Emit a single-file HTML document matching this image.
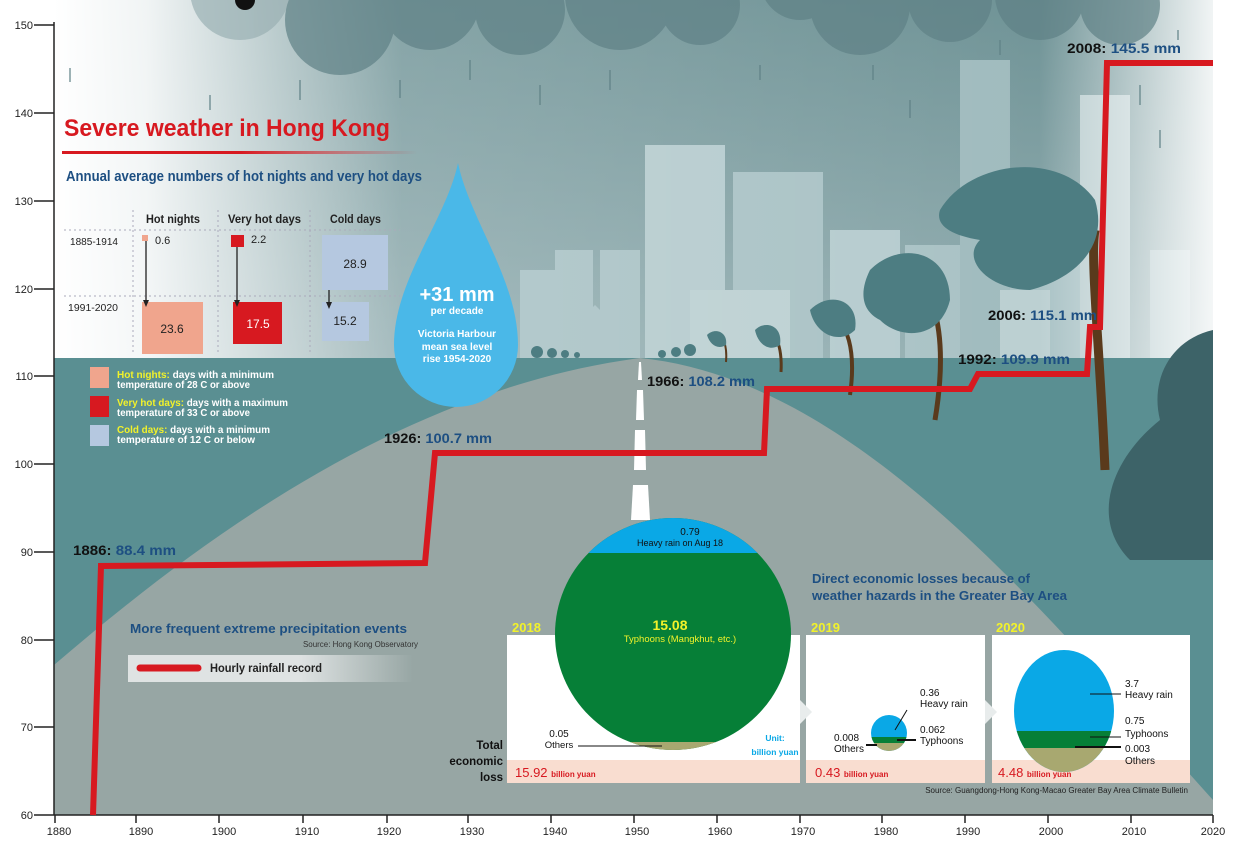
<!DOCTYPE html>
<html><head><meta charset="utf-8"><style>
html,body{margin:0;padding:0;background:#fff}
svg{display:block}
text{font-family:"Liberation Sans Narrow","Liberation Sans",sans-serif}
.b{font-weight:bold}
</style></head><body>
<svg width="1245" height="851" viewBox="0 0 1245 851" xmlns="http://www.w3.org/2000/svg">
<defs>
<linearGradient id="skyv" x1="0" y1="0" x2="0" y2="1">
<stop offset="0" stop-color="#6f9396"/><stop offset="0.55" stop-color="#9fb7ba"/><stop offset="1" stop-color="#d5e0e1"/>
</linearGradient>
<linearGradient id="skyh" x1="0" y1="0" x2="1" y2="0">
<stop offset="0" stop-color="#fff" stop-opacity="1"/><stop offset="0.08" stop-color="#fff" stop-opacity="0.9"/><stop offset="0.3" stop-color="#fff" stop-opacity="0.15"/><stop offset="0.85" stop-color="#fff" stop-opacity="0"/><stop offset="1" stop-color="#fff" stop-opacity="0.9"/>
</linearGradient>
<linearGradient id="uline" x1="0" y1="0" x2="1" y2="0"><stop offset="0" stop-color="#d71920"/><stop offset="0.5" stop-color="#d71920"/><stop offset="1" stop-color="#d71920" stop-opacity="0"/></linearGradient>
<linearGradient id="leg" x1="0" y1="0" x2="1" y2="0"><stop offset="0" stop-color="#dfe3e3"/><stop offset="0.6" stop-color="#dfe3e3"/><stop offset="1" stop-color="#dfe3e3" stop-opacity="0"/></linearGradient>
</defs>
<rect x="54" y="0" width="1159" height="815" fill="url(#skyv)"/>
<g fill="#a9c2c5">
<rect x="520" y="270" width="40" height="90"/><rect x="555" y="250" width="38" height="110"/><rect x="600" y="250" width="40" height="110"/>
<rect x="645" y="145" width="80" height="215" fill="#b5cbce"/><rect x="733" y="172" width="90" height="188"/>
<rect x="830" y="230" width="70" height="130" fill="#b5cbce"/><rect x="905" y="245" width="60" height="115"/>
<rect x="960" y="60" width="50" height="300" fill="#a0bbbe"/><rect x="1010" y="250" width="80" height="110"/>
<rect x="1080" y="95" width="50" height="265" fill="#b8ccce"/><rect x="1150" y="250" width="40" height="110"/>
<polygon points="520,290 540,270 560,290 560,360 520,360"/><polygon points="580,320 595,305 610,320 610,360 580,360"/>
<rect x="690" y="290" width="100" height="70" fill="#bcd0d2"/><rect x="1000" y="290" width="50" height="70" fill="#bcd0d2"/>
</g>
<rect x="54" y="0" width="1159" height="360" fill="url(#skyh)"/>
<g fill="#5f8186" opacity="0.7">
<circle cx="240" cy="-10" r="50" fill="#9ab0b3"/><circle cx="340" cy="20" r="55"/><circle cx="430" cy="0" r="50"/><circle cx="520" cy="10" r="45"/>
<circle cx="620" cy="-5" r="55"/><circle cx="700" cy="5" r="40"/><circle cx="860" cy="5" r="50"/><circle cx="950" cy="0" r="42"/>
<circle cx="1040" cy="-5" r="45"/><circle cx="1120" cy="5" r="40"/><circle cx="800" cy="-20" r="40"/>
</g>
<circle cx="245" cy="0" r="10" fill="#111"/>
<g stroke="#5f8186" stroke-width="2" opacity="0.6">
<line x1="70" y1="68" x2="70" y2="82"/><line x1="210" y1="95" x2="210" y2="110"/><line x1="300" y1="80" x2="300" y2="100"/><line x1="400" y1="80" x2="400" y2="98"/><line x1="470" y1="60" x2="470" y2="80"/><line x1="540" y1="85" x2="540" y2="105"/><line x1="610" y1="70" x2="610" y2="90"/><line x1="760" y1="65" x2="760" y2="80"/><line x1="873" y1="65" x2="873" y2="80"/><line x1="910" y1="100" x2="910" y2="118"/><line x1="1000" y1="40" x2="1000" y2="55"/><line x1="1140" y1="85" x2="1140" y2="105"/><line x1="1178" y1="30" x2="1178" y2="40"/><line x1="1160" y1="130" x2="1160" y2="148"/>
</g>
<rect x="54" y="358" width="1159" height="457" fill="#5a8f92"/>
<path d="M54,665 C200,540 400,390 640,358 C860,380 1050,620 1213,800 L1213,815 L54,815 Z" fill="#97a6a4"/>
<path d="M1213,330 C1170,340 1150,380 1160,420 C1110,460 1090,520 1130,560 L1213,560 Z" fill="#3d6368"/>
<g fill="#4d7d82">
<path d="M1105,470 C1100,350 1090,260 1095,230" stroke="#5a3a1c" stroke-width="9" fill="none"/>
<path d="M940,210 C970,160 1060,150 1095,200 C1110,250 1070,280 1030,290 C990,290 960,260 980,240 C950,235 935,225 940,210 Z"/>
<path d="M935,420 C945,360 940,320 930,300" stroke="#5a3a1c" stroke-width="5" fill="none"/>
<path d="M870,270 C900,240 950,250 950,300 C940,340 900,340 880,320 C860,310 860,290 870,270 Z"/>
<path d="M850,395 C855,360 850,340 845,330" stroke="#5a3a1c" stroke-width="4" fill="none"/>
<path d="M810,310 C830,290 860,300 855,330 C840,345 815,335 810,310 Z"/>
<path d="M781,372 C782,355 779,345 777,340" stroke="#5a3a1c" stroke-width="3" fill="none"/>
<path d="M755,330 C765,320 783,325 780,345 C770,352 758,345 755,330 Z"/>
<path d="M726,362 C727,350 725,345 724,340" stroke="#5a3a1c" stroke-width="2" fill="none"/>
<path d="M707,335 C715,327 728,332 726,345 C718,350 710,345 707,335 Z"/>
<circle cx="690" cy="350" r="6"/><circle cx="676" cy="352" r="5"/><circle cx="662" cy="354" r="4"/>
<circle cx="537" cy="352" r="6"/><circle cx="552" cy="353" r="5"/><circle cx="565" cy="354" r="4"/><circle cx="577" cy="355" r="3"/>
</g>
<g fill="#fff"><polygon points="639,362 641,362 642,380 638,380"/><polygon points="637,390 643,390 644,420 636,420"/><polygon points="635,430 645,430 646,470 634,470"/><polygon points="633,485 648,485 650,520 631,520"/></g>
<rect x="0" y="0" width="54" height="851" fill="#fff"/>
<rect x="1213" y="0" width="32" height="851" fill="#fff"/>
<text x="64" y="136" font-size="24" fill="#d71920" class="b" textLength="326" lengthAdjust="spacingAndGlyphs">Severe weather in Hong Kong</text>
<rect x="62" y="151" width="355" height="3" fill="url(#uline)"/>
<text x="66" y="181" font-size="14.5" fill="#1d4f82" class="b" textLength="356" lengthAdjust="spacingAndGlyphs">Annual average numbers of hot nights and very hot days</text>
<g stroke="#aab" stroke-dasharray="2,3" stroke-width="1">
<line x1="133" y1="210" x2="133" y2="355"/><line x1="218" y1="210" x2="218" y2="355"/><line x1="310" y1="210" x2="310" y2="355"/>
<line x1="64" y1="230" x2="400" y2="230"/><line x1="64" y1="296" x2="400" y2="296"/>
</g>
<g font-size="11.5" fill="#222" class="b">
<text x="146" y="223" textLength="54" lengthAdjust="spacingAndGlyphs">Hot nights</text><text x="228" y="223" textLength="73" lengthAdjust="spacingAndGlyphs">Very hot days</text><text x="330" y="223" textLength="51" lengthAdjust="spacingAndGlyphs">Cold days</text>
</g>
<g font-size="10" fill="#222"><text x="70" y="245" textLength="48" lengthAdjust="spacingAndGlyphs">1885-1914</text><text x="68" y="311" textLength="50" lengthAdjust="spacingAndGlyphs">1991-2020</text></g>
<rect x="142" y="235" width="6" height="6" fill="#f0a58d"/><text x="155" y="244" font-size="11" fill="#222">0.6</text>
<rect x="231" y="235" width="13" height="12" fill="#d71920"/><text x="251" y="243" font-size="11" fill="#222">2.2</text>
<rect x="322" y="235" width="66" height="55" fill="#b5c8e0"/><text x="355" y="268" font-size="12" fill="#222" text-anchor="middle">28.9</text>
<rect x="142" y="302" width="61" height="52" fill="#f0a58d"/><text x="172" y="333" font-size="12" fill="#222" text-anchor="middle">23.6</text>
<rect x="233" y="302" width="49" height="42" fill="#d71920"/><text x="258" y="328" font-size="12" fill="#fff" text-anchor="middle">17.5</text>
<rect x="322" y="302" width="47" height="39" fill="#b5c8e0"/><text x="345" y="325" font-size="12" fill="#222" text-anchor="middle">15.2</text>
<g stroke="#222" stroke-width="1.3"><line x1="146" y1="241" x2="146" y2="302"/><line x1="237" y1="247" x2="237" y2="302"/><line x1="329" y1="290" x2="329" y2="304"/></g>
<g fill="#222"><polygon points="143,300 149,300 146,307"/><polygon points="234,300 240,300 237,307"/><polygon points="326,302 332,302 329,309"/></g>
<rect x="90" y="367" width="19" height="21" fill="#f0a58d"/><rect x="90" y="396" width="19" height="21" fill="#d71920"/><rect x="90" y="425" width="19" height="21" fill="#b5c8e0"/>
<g font-size="10" fill="#fff" class="b">
<text x="117" y="378" textLength="157" lengthAdjust="spacingAndGlyphs"><tspan fill="#f2f22a">Hot nights:</tspan> days with a minimum</text><text x="117" y="388" textLength="133" lengthAdjust="spacingAndGlyphs">temperature of 28 C or above</text>
<text x="117" y="406" textLength="171" lengthAdjust="spacingAndGlyphs"><tspan fill="#f2f22a">Very hot days:</tspan> days with a maximum</text><text x="117" y="416" textLength="133" lengthAdjust="spacingAndGlyphs">temperature of 33 C or above</text>
<text x="117" y="433" textLength="153" lengthAdjust="spacingAndGlyphs"><tspan fill="#f2f22a">Cold days:</tspan> days with a minimum</text><text x="117" y="443" textLength="138" lengthAdjust="spacingAndGlyphs">temperature of 12 C or below</text>
</g>
<path d="M458,163 C470,220 518,280 518,345 A62,62 0 0 1 394,345 C394,280 446,220 458,163 Z" fill="#4ab8e8"/>
<g fill="#fff" class="b" text-anchor="middle">
<text x="457" y="301" font-size="20">+31 mm</text><text x="457" y="314" font-size="10">per decade</text>
<text x="457" y="337" font-size="10">Victoria Harbour</text><text x="457" y="350" font-size="10">mean sea level</text><text x="457" y="362" font-size="10">rise 1954-2020</text>
</g>
<g stroke="#222" stroke-width="1.5">
<line x1="54" y1="22" x2="54" y2="815"/><line x1="54" y1="815" x2="1213" y2="815"/>
<line x1="34" y1="25" x2="54" y2="25"/><line x1="34" y1="113" x2="54" y2="113"/><line x1="34" y1="201" x2="54" y2="201"/><line x1="34" y1="289" x2="54" y2="289"/><line x1="34" y1="376" x2="54" y2="376"/><line x1="34" y1="464" x2="54" y2="464"/><line x1="34" y1="552" x2="54" y2="552"/><line x1="34" y1="640" x2="54" y2="640"/><line x1="34" y1="727" x2="54" y2="727"/><line x1="34" y1="815" x2="54" y2="815"/>
<line x1="55" y1="815" x2="55" y2="823"/><line x1="136" y1="815" x2="136" y2="823"/><line x1="219" y1="815" x2="219" y2="823"/><line x1="303" y1="815" x2="303" y2="823"/><line x1="387" y1="815" x2="387" y2="823"/><line x1="468" y1="815" x2="468" y2="823"/><line x1="551" y1="815" x2="551" y2="823"/><line x1="634" y1="815" x2="634" y2="823"/><line x1="717" y1="815" x2="717" y2="823"/><line x1="800" y1="815" x2="800" y2="823"/><line x1="882" y1="815" x2="882" y2="823"/><line x1="965" y1="815" x2="965" y2="823"/><line x1="1048" y1="815" x2="1048" y2="823"/><line x1="1131" y1="815" x2="1131" y2="823"/><line x1="1213" y1="815" x2="1213" y2="823"/>
</g>
<g font-size="11" fill="#222" text-anchor="end">
<text x="33" y="29">150</text><text x="33" y="117">140</text><text x="33" y="205">130</text><text x="33" y="293">120</text><text x="33" y="380">110</text><text x="33" y="468">100</text><text x="33" y="556">90</text><text x="33" y="644">80</text><text x="33" y="731">70</text><text x="33" y="819">60</text>
</g>
<g font-size="11" fill="#222" text-anchor="middle">
<text x="59" y="835">1880</text><text x="141" y="835">1890</text><text x="224" y="835">1900</text><text x="307" y="835">1910</text><text x="389" y="835">1920</text><text x="472" y="835">1930</text><text x="555" y="835">1940</text><text x="637" y="835">1950</text><text x="720" y="835">1960</text><text x="803" y="835">1970</text><text x="886" y="835">1980</text><text x="968" y="835">1990</text><text x="1051" y="835">2000</text><text x="1134" y="835">2010</text><text x="1213" y="835">2020</text>
</g>
<polyline points="93,815 101,566 425,563 435,453 764,453 767,389 970,389 978,374 1087,374 1090,327 1100,327 1107,63 1213,63" fill="none" stroke="#d71920" stroke-width="6" stroke-linejoin="miter"/>
<g font-size="13.5" class="b" fill="#1d4f82">
<text x="73" y="555" textLength="103" lengthAdjust="spacingAndGlyphs"><tspan fill="#111">1886: </tspan>88.4 mm</text>
<text x="384" y="443" textLength="108" lengthAdjust="spacingAndGlyphs"><tspan fill="#111">1926: </tspan>100.7 mm</text>
<text x="647" y="386" textLength="108" lengthAdjust="spacingAndGlyphs"><tspan fill="#111">1966: </tspan>108.2 mm</text>
<text x="958" y="364" textLength="112" lengthAdjust="spacingAndGlyphs"><tspan fill="#111">1992: </tspan>109.9 mm</text>
<text x="988" y="320" textLength="109" lengthAdjust="spacingAndGlyphs"><tspan fill="#111">2006: </tspan>115.1 mm</text>
<text x="1067" y="53" textLength="114" lengthAdjust="spacingAndGlyphs"><tspan fill="#111">2008: </tspan>145.5 mm</text>
</g>
<text x="130" y="633" font-size="13" class="b" fill="#1d4f82" textLength="277" lengthAdjust="spacingAndGlyphs">More frequent extreme precipitation events</text>
<text x="418" y="647" font-size="8" fill="#333" text-anchor="end" textLength="115" lengthAdjust="spacingAndGlyphs">Source: Hong Kong Observatory</text>
<rect x="128" y="655" width="285" height="27" fill="url(#leg)"/>
<line x1="140" y1="668" x2="198" y2="668" stroke="#d71920" stroke-width="7" stroke-linecap="round"/>
<text x="210" y="672" font-size="11.5" class="b" fill="#222" textLength="112" lengthAdjust="spacingAndGlyphs">Hourly rainfall record</text>
<text x="812" y="583" font-size="13" class="b" fill="#1d4f82" textLength="218" lengthAdjust="spacingAndGlyphs">Direct economic losses because of</text>
<text x="812" y="600" font-size="13" class="b" fill="#1d4f82" textLength="255" lengthAdjust="spacingAndGlyphs">weather hazards in the Greater Bay Area</text>
<rect x="507" y="635" width="293" height="125" fill="#fff"/><rect x="507" y="760" width="293" height="23" fill="#f9ddd0"/>
<rect x="806" y="635" width="179" height="125" fill="#fff"/><rect x="806" y="760" width="179" height="23" fill="#f9ddd0"/>
<rect x="992" y="635" width="198" height="125" fill="#fff"/><rect x="992" y="760" width="198" height="23" fill="#f9ddd0"/>
<g font-size="13" class="b" fill="#f2f22a"><text x="512" y="632">2018</text><text x="811" y="632">2019</text><text x="996" y="632">2020</text></g>
<clipPath id="c1"><ellipse cx="673" cy="634" rx="118" ry="116"/></clipPath>
<g clip-path="url(#c1)"><rect x="550" y="515" width="250" height="240" fill="#067f37"/><rect x="550" y="515" width="250" height="38" fill="#0aa8e6"/><rect x="550" y="742" width="250" height="20" fill="#a8a870"/></g>
<text x="690" y="535" font-size="10" fill="#111" text-anchor="middle">0.79</text><text x="680" y="546" font-size="9" fill="#111" text-anchor="middle">Heavy rain on Aug 18</text>
<text x="670" y="630" font-size="14" class="b" fill="#f2f22a" text-anchor="middle">15.08</text><text x="680" y="642" font-size="9.5" fill="#f2f22a" text-anchor="middle">Typhoons (Mangkhut, etc.)</text>
<text x="559" y="737" font-size="10" fill="#111" text-anchor="middle">0.05</text><text x="559" y="748" font-size="9.5" fill="#111" text-anchor="middle">Others</text>
<line x1="578" y1="746" x2="662" y2="746" stroke="#111"/>
<text x="775" y="741" font-size="8.5" class="b" fill="#0aa8e6" text-anchor="middle">Unit:</text><text x="775" y="755" font-size="8.5" class="b" fill="#0aa8e6" text-anchor="middle">billion yuan</text>
<g font-size="11.5" class="b" fill="#111" text-anchor="end"><text x="503" y="749">Total</text><text x="503" y="765">economic</text><text x="503" y="781">loss</text></g>
<text x="515" y="777" font-size="13" fill="#d71920">15.92 <tspan font-size="8" class="b">billion yuan</tspan></text>
<text x="815" y="777" font-size="13" fill="#d71920">0.43 <tspan font-size="8" class="b">billion yuan</tspan></text>
<text x="998" y="777" font-size="13" fill="#d71920">4.48 <tspan font-size="8" class="b">billion yuan</tspan></text>
<polygon points="800,700 812,712 800,724" fill="#e8ecec"/><polygon points="985,700 997,712 985,724" fill="#e8ecec"/>
<clipPath id="c2"><circle cx="889" cy="733" r="18"/></clipPath>
<g clip-path="url(#c2)"><rect x="870" y="714" width="40" height="40" fill="#0aa8e6"/><rect x="870" y="737" width="40" height="6" fill="#067f37"/><rect x="870" y="743" width="40" height="10" fill="#a8a870"/></g>
<g stroke="#111"><line x1="907" y1="710" x2="895" y2="730"/><line x1="897" y1="740" x2="916" y2="740" stroke-width="2"/><line x1="866" y1="745" x2="877" y2="745" stroke-width="2"/></g>
<g font-size="10" fill="#111"><text x="920" y="696">0.36</text><text x="920" y="707">Heavy rain</text><text x="920" y="733">0.062</text><text x="920" y="744">Typhoons</text>
<text x="834" y="741">0.008</text><text x="834" y="752">Others</text></g>
<clipPath id="c3"><ellipse cx="1064" cy="711" rx="50" ry="61"/></clipPath>
<g clip-path="url(#c3)"><rect x="1010" y="648" width="110" height="130" fill="#0aa8e6"/><rect x="1010" y="731" width="110" height="17" fill="#067f37"/><rect x="1010" y="748" width="110" height="30" fill="#a8a870"/></g>
<g stroke="#111"><line x1="1090" y1="694" x2="1121" y2="694"/><line x1="1090" y1="737" x2="1121" y2="737"/><line x1="1075" y1="747" x2="1121" y2="747" stroke-width="2"/></g>
<g font-size="10" fill="#111"><text x="1125" y="687">3.7</text><text x="1125" y="698">Heavy rain</text><text x="1125" y="724">0.75</text><text x="1125" y="737">Typhoons</text><text x="1125" y="752">0.003</text><text x="1125" y="764">Others</text></g>
<text x="1188" y="793" font-size="8" fill="#222" text-anchor="end">Source: Guangdong-Hong Kong-Macao Greater Bay Area Climate Bulletin</text>
</svg>
</body></html>
